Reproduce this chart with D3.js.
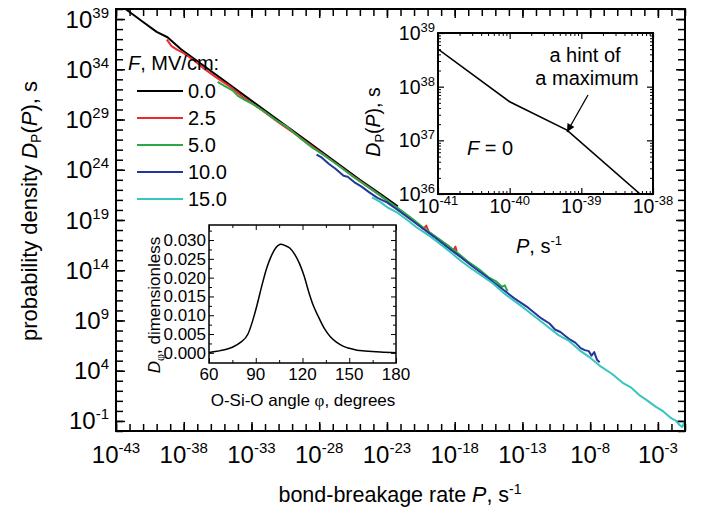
<!DOCTYPE html>
<html>
<head>
<meta charset="utf-8">
<script src="https://cdn.jsdelivr.net/npm/d3@7"></script>
<style>
  html, body { margin: 0; padding: 0; background: #fff; }
  svg { display: block; font-family: "Liberation Sans", Arial, sans-serif; }
</style>
</head>
<body>
<svg id="chart" width="707" height="510"></svg>
<script>
// ---------- data (log10 P in s^-1, log10 D_P in s) ----------
const fieldLabels = ["0.0", "2.5", "5.0", "10.0", "15.0"];
const fieldColors = ["#000000", "#ec2a2c", "#2ca946", "#23379b", "#38c5bf"];

const seriesF0 = [[-42.3, 40.0], [-41.0, 38.7], [-40.0, 37.72], [-39.2, 37.19], [-38.2, 36.0],
  [-35.0, 32.85], [-32.0, 29.9], [-29.0, 26.95], [-25.0, 23.0], [-23.5, 21.6], [-22.2, 20.35]];

const seriesF25 = [[-39.25, 36.95], [-38.9, 36.3], [-38.5, 35.95], [-38.0, 35.6], [-37.2, 34.85],
  [-36.5, 34.05], [-35.5, 33.1], [-34.6, 32.3], [-33.5, 31.1], [-32.3, 30.0], [-31.0, 28.7],
  [-29.8, 27.6], [-28.5, 26.3], [-27.2, 25.05], [-26.0, 23.85], [-24.8, 22.7], [-23.6, 21.55],
  [-22.4, 20.35], [-21.3, 19.25], [-20.6, 18.45], [-20.3, 18.1], [-20.1, 18.45], [-19.9, 17.8],
  [-19.2, 17.1], [-18.5, 16.45], [-18.1, 15.95], [-17.95, 16.35], [-17.85, 15.9]];

const seriesF50 = [[-35.5, 32.75], [-35.0, 32.35], [-34.4, 31.9], [-34.0, 31.35], [-33.5, 30.95],
  [-32.8, 30.45], [-32.0, 29.75], [-31.2, 28.95], [-30.4, 28.3], [-29.5, 27.25], [-28.5, 26.2],
  [-27.6, 25.4], [-26.5, 24.35], [-25.5, 23.3], [-24.4, 22.3], [-23.3, 21.25], [-22.2, 20.2],
  [-21.2, 19.2], [-20.1, 18.0], [-19.0, 16.95], [-18.0, 15.95], [-17.0, 14.85], [-16.2, 14.1],
  [-15.5, 13.3], [-15.0, 12.95], [-14.5, 12.35], [-14.3, 12.5], [-14.1, 11.9]];

const seriesF10 = [[-28.2, 25.5], [-27.8, 25.2], [-27.3, 24.6], [-26.8, 24.1], [-26.2, 23.4],
  [-25.9, 23.3], [-25.4, 22.75], [-24.9, 22.35], [-24.3, 21.75], [-23.7, 21.2], [-23.0, 20.75],
  [-22.2, 20.0], [-21.3, 19.1], [-20.4, 18.2], [-19.5, 17.3], [-18.6, 16.35], [-17.6, 15.35],
  [-16.6, 14.3], [-15.6, 13.3], [-14.6, 12.25], [-13.6, 11.2], [-12.6, 10.3], [-11.6, 9.2],
  [-11.0, 8.7], [-10.6, 8.1], [-10.2, 7.85], [-9.6, 7.2], [-9.1, 6.8], [-8.7, 6.25], [-8.4, 6.05],
  [-8.1, 5.95], [-7.9, 5.5], [-7.7, 5.85], [-7.5, 5.1], [-7.3, 4.85]];

const seriesF15 = [[-24.1, 21.25], [-23.5, 20.8], [-22.9, 20.2], [-22.2, 19.7], [-21.5, 19.0],
  [-20.8, 18.25], [-20.0, 17.55], [-19.2, 16.75], [-18.4, 15.9], [-17.6, 15.0], [-16.8, 14.2],
  [-16.0, 13.45], [-15.2, 12.7], [-14.4, 11.75], [-13.6, 10.95], [-12.8, 10.15], [-12.0, 9.3],
  [-11.2, 8.45], [-10.4, 7.6], [-9.6, 7.0], [-8.8, 6.05], [-8.0, 5.3], [-7.2, 4.4], [-6.4, 3.7],
  [-5.6, 2.8], [-5.0, 2.35], [-4.4, 1.6], [-3.8, 1.05], [-3.2, 0.45], [-2.6, -0.05], [-2.0, -0.75],
  [-1.7, -0.95], [-1.4, -1.4], [-1.2, -1.6], [-1.05, -1.1]];

const mainSeries = [seriesF0, seriesF25, seriesF50, seriesF10, seriesF15];

// zoomed F = 0 curve near the smallest rates
const zoomF0 = [[-41.0, 38.7], [-40.0, 37.72], [-39.2, 37.19], [-38.18, 36.0]];

// O-Si-O angle distribution
const angleDeg = [60, 65, 70, 75, 80, 85, 88, 91, 94, 97, 100, 103, 106, 109, 112, 115, 118, 121,
  124, 127, 130, 134, 138, 142, 146, 150, 155, 160, 170, 180];
const angleDensity = [0.0001, 0.0004, 0.0008, 0.0015, 0.0027, 0.0050, 0.0085, 0.0130, 0.0180,
  0.0225, 0.0258, 0.0280, 0.0289, 0.0285, 0.0278, 0.0262, 0.0238, 0.0205, 0.0162, 0.0125, 0.0098,
  0.0065, 0.0042, 0.0028, 0.0018, 0.0012, 0.0007, 0.0005, 0.0002, 0.0000];

// tick values
const mainXTickExps = [-43, -38, -33, -28, -23, -18, -13, -8, -3];
const mainYTickExps = [-1, 4, 9, 14, 19, 24, 29, 34, 39];
const zoomXTickExps = [-41, -40, -39, -38];
const zoomYTickExps = [36, 37, 38, 39];
const angleTicks = [60, 90, 120, 150, 180];
const densityTicks = [0.000, 0.005, 0.010, 0.015, 0.020, 0.025, 0.030];

// ---------- helpers ----------
const svg = d3.select("#chart");
const pow10 = e => Math.pow(10, e);

function tickAxis(g, axisFn, scale, values, size, width) {
  g.call(axisFn(scale).tickValues(values).tickSize(-size).tickFormat(""));
  g.select(".domain").remove();
  g.selectAll(".tick line").attr("stroke", "#000").attr("stroke-width", width);
}

function powerText(sel, exp, base, sup, raise) {
  sel.append("tspan").attr("font-size", base).text("10");
  sel.append("tspan").attr("font-size", sup).attr("dy", -raise).text(exp);
}

function range(a, b) { const r = []; for (let i = a; i <= b; i++) r.push(i); return r; }

// ---------- main panel ----------
const M = { left: 116, top: 9, right: 685, bottom: 431 };
const x = d3.scaleLog().domain([1e-43, 1e-1]).range([M.left, M.right]);
const y = d3.scaleLog().domain([1e-2, 1e40]).range([M.bottom, M.top]);

const minorX = range(-43, -1).map(pow10);
const minorY = range(-2, 40).map(pow10);
const majorX = mainXTickExps.map(pow10);
const majorY = mainYTickExps.map(pow10);

svg.append("defs").append("clipPath").attr("id", "mainClip")
  .append("rect").attr("x", M.left).attr("y", M.top)
  .attr("width", M.right - M.left).attr("height", M.bottom - M.top);

const axes = svg.append("g");
[[d3.axisBottom, M.bottom, "x"], [d3.axisTop, M.top, "x"]].forEach(([fn, pos]) => {
  tickAxis(axes.append("g").attr("transform", `translate(0,${pos})`), fn, x, minorX, 7, 1.5);
  tickAxis(axes.append("g").attr("transform", `translate(0,${pos})`), fn, x, majorX, 9, 1.5);
});
[[d3.axisLeft, M.left], [d3.axisRight, M.right]].forEach(([fn, pos]) => {
  tickAxis(axes.append("g").attr("transform", `translate(${pos},0)`), fn, y, minorY, 7, 1.5);
  tickAxis(axes.append("g").attr("transform", `translate(${pos},0)`), fn, y, majorY, 9, 1.5);
});

// curves
const mainLine = d3.line().x(d => x(pow10(d[0]))).y(d => y(pow10(d[1])));
const curves = svg.append("g").attr("clip-path", "url(#mainClip)");
mainSeries.forEach((s, i) => {
  curves.append("path").datum(s).attr("d", mainLine)
    .attr("fill", "none").attr("stroke", fieldColors[i]).attr("stroke-width", 2)
    .attr("stroke-linejoin", "round");
});

svg.append("rect").attr("x", M.left).attr("y", M.top)
  .attr("width", M.right - M.left).attr("height", M.bottom - M.top)
  .attr("fill", "none").attr("stroke", "#000").attr("stroke-width", 2);

// tick labels
svg.append("g").selectAll("text").data(mainXTickExps).join("text")
  .attr("x", d => x(pow10(d))).attr("y", 463).attr("text-anchor", "middle")
  .each(function (d) { powerText(d3.select(this), String(d), 24, 15, 10); });

svg.append("g").selectAll("text").data(mainYTickExps).join("text")
  .attr("x", 109).attr("y", d => y(pow10(d)) + 8.5).attr("text-anchor", "end")
  .each(function (d) { powerText(d3.select(this), String(d), 24, 15, 10); });

// axis titles
const xt = svg.append("text").attr("x", 400).attr("y", 502).attr("text-anchor", "middle")
  .attr("font-size", 21.5);
xt.append("tspan").text("bond-breakage rate ");
xt.append("tspan").attr("font-style", "italic").text("P");
xt.append("tspan").text(", s");
xt.append("tspan").attr("font-size", 14).attr("dy", -8).text("-1");

const yt = svg.append("text").attr("transform", "translate(37,211) rotate(-90)")
  .attr("text-anchor", "middle").attr("font-size", 22);
yt.append("tspan").text("probability density ");
yt.append("tspan").attr("font-style", "italic").text("D");
yt.append("tspan").attr("font-size", 14).attr("dy", 4).text("P");
yt.append("tspan").attr("dy", -4).text("(");
yt.append("tspan").attr("font-style", "italic").text("P");
yt.append("tspan").text("), s");

// legend
const lt = svg.append("text").attr("x", 128).attr("y", 70).attr("font-size", 20);
lt.append("tspan").attr("font-style", "italic").text("F");
lt.append("tspan").text(", MV/cm:");
const legendY = d3.scalePoint().domain(fieldLabels).range([91, 199]);
const leg = svg.append("g").selectAll("g").data(fieldLabels).join("g")
  .attr("transform", d => `translate(0,${legendY(d)})`);
leg.append("line").attr("x1", 137).attr("x2", 183)
  .attr("stroke", (d, i) => fieldColors[i]).attr("stroke-width", 2);
leg.append("text").attr("x", 188).attr("y", 7).attr("font-size", 20).text(d => d);

// ---------- upper inset: F = 0 near smallest rates ----------
const A = { left: 438, top: 33, right: 653, bottom: 194 };
const ix = d3.scaleLog().domain([1e-41, 1e-38]).range([A.left, A.right]);
const iy = d3.scaleLog().domain([1e36, 1e39]).range([A.bottom, A.top]);

svg.append("rect").attr("x", A.left).attr("y", A.top)
  .attr("width", A.right - A.left).attr("height", A.bottom - A.top).attr("fill", "#fff");

const minorIX = [], minorIY = [];
[-41, -40, -39].forEach(e => { for (let k = 2; k <= 9; k++) minorIX.push(k * pow10(e)); });
[36, 37, 38].forEach(e => { for (let k = 2; k <= 9; k++) minorIY.push(k * pow10(e)); });
const inA = svg.append("g");
[[d3.axisBottom, A.bottom], [d3.axisTop, A.top]].forEach(([fn, pos]) => {
  tickAxis(inA.append("g").attr("transform", `translate(0,${pos})`), fn, ix, minorIX, 3, 1);
  tickAxis(inA.append("g").attr("transform", `translate(0,${pos})`), fn, ix, zoomXTickExps.map(pow10), 6, 1.2);
});
[[d3.axisLeft, A.left], [d3.axisRight, A.right]].forEach(([fn, pos]) => {
  tickAxis(inA.append("g").attr("transform", `translate(${pos},0)`), fn, iy, minorIY, 3, 1);
  tickAxis(inA.append("g").attr("transform", `translate(${pos},0)`), fn, iy, zoomYTickExps.map(pow10), 6, 1.2);
});

svg.append("defs").append("clipPath").attr("id", "zoomClip")
  .append("rect").attr("x", A.left).attr("y", A.top)
  .attr("width", A.right - A.left).attr("height", A.bottom - A.top);
svg.append("path").datum(zoomF0).attr("clip-path", "url(#zoomClip)")
  .attr("d", d3.line().x(d => ix(pow10(d[0]))).y(d => iy(pow10(d[1]))))
  .attr("fill", "none").attr("stroke", "#000").attr("stroke-width", 1.6);

svg.append("rect").attr("x", A.left).attr("y", A.top)
  .attr("width", A.right - A.left).attr("height", A.bottom - A.top)
  .attr("fill", "none").attr("stroke", "#000").attr("stroke-width", 2);

svg.append("g").selectAll("text").data(zoomXTickExps).join("text")
  .attr("x", d => ix(pow10(d))).attr("y", 213).attr("text-anchor", "middle")
  .each(function (d) { powerText(d3.select(this), String(d), 19.5, 13, 8); });
svg.append("g").selectAll("text").data(zoomYTickExps).join("text")
  .attr("x", 435).attr("y", d => iy(pow10(d)) + 7).attr("text-anchor", "end")
  .each(function (d) { powerText(d3.select(this), String(d), 19.5, 13, 8); });

const ixt = svg.append("text").attr("x", 539).attr("y", 253).attr("text-anchor", "middle").attr("font-size", 20);
ixt.append("tspan").attr("font-style", "italic").text("P");
ixt.append("tspan").text(", s");
ixt.append("tspan").attr("font-size", 13).attr("dy", -8).text("-1");

const iyt = svg.append("text").attr("transform", "translate(380,122) rotate(-90)")
  .attr("text-anchor", "middle").attr("font-size", 19.5);
iyt.append("tspan").attr("font-style", "italic").text("D");
iyt.append("tspan").attr("font-size", 13).attr("dy", 4).text("P");
iyt.append("tspan").attr("dy", -4).text("(");
iyt.append("tspan").attr("font-style", "italic").text("P");
iyt.append("tspan").text("), s");

svg.append("text").attr("x", 585).attr("y", 62).attr("text-anchor", "middle").attr("font-size", 20).text("a hint of");
svg.append("text").attr("x", 587).attr("y", 85).attr("text-anchor", "middle").attr("font-size", 20).text("a maximum");

const f0 = svg.append("text").attr("x", 467).attr("y", 155).attr("font-size", 20);
f0.append("tspan").attr("font-style", "italic").text("F");
f0.append("tspan").text(" = 0");

svg.append("defs").append("marker").attr("id", "arrowHead")
  .attr("viewBox", "0 0 10 10").attr("refX", 10).attr("refY", 5)
  .attr("markerWidth", 10).attr("markerHeight", 8).attr("markerUnits", "userSpaceOnUse")
  .attr("orient", "auto")
  .append("path").attr("d", "M0,0 L10,5 L0,10 Z").attr("fill", "#000");
svg.append("line").attr("x1", 588).attr("y1", 95).attr("x2", 567).attr("y2", 132)
  .attr("stroke", "#000").attr("stroke-width", 1.3).attr("marker-end", "url(#arrowHead)");

// ---------- lower inset: O-Si-O angle distribution ----------
const B = { left: 209, top: 225, right: 396, bottom: 363 };
const ax = d3.scaleLinear().domain([60, 180]).range([B.left, B.right]);
const ay = d3.scaleLinear().domain([-0.0027, 0.034]).range([B.bottom, B.top]);

svg.append("rect").attr("x", B.left).attr("y", B.top)
  .attr("width", B.right - B.left).attr("height", B.bottom - B.top).attr("fill", "#fff");

const inB = svg.append("g");
const angleMinor = d3.range(75, 180, 30);
const densityMinor = d3.range(0.0025, 0.033, 0.005);
[[d3.axisBottom, B.bottom], [d3.axisTop, B.top]].forEach(([fn, pos]) => {
  tickAxis(inB.append("g").attr("transform", `translate(0,${pos})`), fn, ax, angleTicks, 5, 1);
  tickAxis(inB.append("g").attr("transform", `translate(0,${pos})`), fn, ax, angleMinor, 3, 1);
});
[[d3.axisLeft, B.left], [d3.axisRight, B.right]].forEach(([fn, pos]) => {
  tickAxis(inB.append("g").attr("transform", `translate(${pos},0)`), fn, ay, densityTicks, 5, 1);
  tickAxis(inB.append("g").attr("transform", `translate(${pos},0)`), fn, ay, densityMinor, 3, 1);
});

svg.append("path").datum(angleDeg.map((a, i) => [a, angleDensity[i]]))
  .attr("d", d3.line().x(d => ax(d[0])).y(d => ay(d[1])).curve(d3.curveMonotoneX))
  .attr("fill", "none").attr("stroke", "#000").attr("stroke-width", 1.5);

svg.append("rect").attr("x", B.left).attr("y", B.top)
  .attr("width", B.right - B.left).attr("height", B.bottom - B.top)
  .attr("fill", "none").attr("stroke", "#000").attr("stroke-width", 1.5);

svg.append("g").selectAll("text").data(angleTicks).join("text")
  .attr("x", d => ax(d)).attr("y", 380).attr("text-anchor", "middle").attr("font-size", 17)
  .text(d => d);
svg.append("g").selectAll("text").data(densityTicks).join("text")
  .attr("x", 206).attr("y", d => ay(d) + 6).attr("text-anchor", "end").attr("font-size", 17)
  .text(d => d3.format(".3f")(d));

const bxt = svg.append("text").attr("x", 303).attr("y", 406).attr("text-anchor", "middle").attr("font-size", 17);
bxt.append("tspan").text("O-Si-O angle ");
bxt.append("tspan").attr("font-family", "'Liberation Serif', serif").text("\u03C6");
bxt.append("tspan").text(", degrees");

const byt = svg.append("text").attr("transform", "translate(160,305) rotate(-90)")
  .attr("text-anchor", "middle").attr("font-size", 17);
byt.append("tspan").attr("font-style", "italic").text("D");
byt.append("tspan").attr("font-size", 12).attr("dy", 4).attr("font-family", "'Liberation Serif', serif").text("\u03C6");
byt.append("tspan").attr("dy", -4).text(", dimensionless");
</script>
</body>
</html>
